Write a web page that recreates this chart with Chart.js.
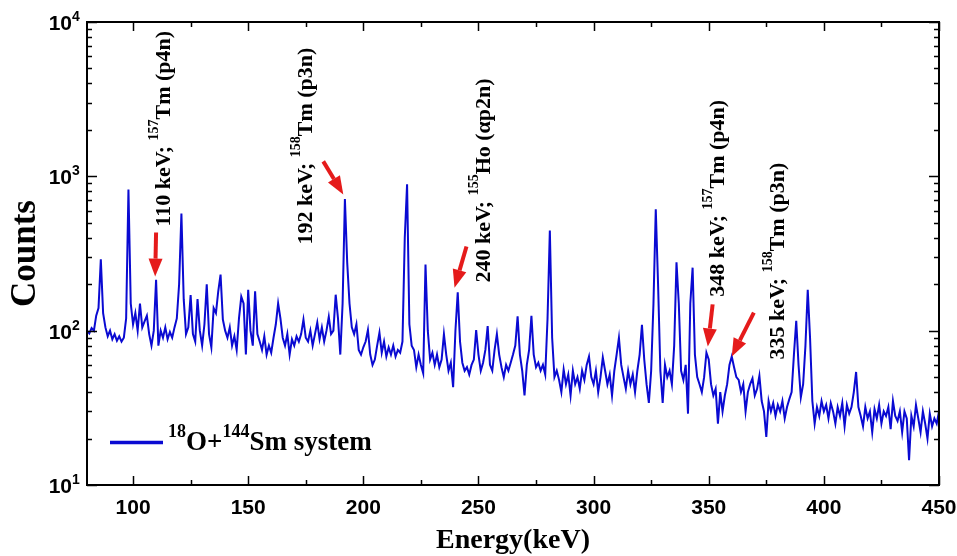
<!DOCTYPE html>
<html>
<head>
<meta charset="utf-8">
<script src="https://cdn.jsdelivr.net/npm/chart.js@4/dist/chart.umd.min.js"></script>
<style>
html,body{margin:0;padding:0;background:#fff;}
canvas{display:block;}
</style>
</head>
<body>
<canvas id="c" width="957" height="556"></canvas>
<script>
// ---- data ----
const energyKeV = [
80,81,82,83,84,85,86,87,88,89,
90,91,92,93,94,95,96,97,98,99,
100,101,102,103,104,105,106,107,108,109,
110,111,112,113,114,115,116,117,118,119,
120,121,122,123,124,125,126,127,128,129,
130,131,132,133,134,135,136,137,138,139,
140,141,142,143,144,145,146,147,148,149,
150,151,152,153,154,155,156,157,158,159,
160,161,162,163,164,165,166,167,168,169,
170,171,172,173,174,175,176,177,178,179,
180,181,182,183,184,185,186,187,188,189,
190,191,192,193,194,195,196,197,198,199,
200,201,202,203,204,205,206,207,208,209,
210,211,212,213,214,215,216,217,218,219,
220,221,222,223,224,225,226,227,228,229,
230,231,232,233,234,235,236,237,238,239,
240,241,242,243,244,245,246,247,248,249,
250,251,252,253,254,255,256,257,258,259,
260,261,262,263,264,265,266,267,268,269,
270,271,272,273,274,275,276,277,278,279,
280,281,282,283,284,285,286,287,288,289,
290,291,292,293,294,295,296,297,298,299,
300,301,302,303,304,305,306,307,308,309,
310,311,312,313,314,315,316,317,318,319,
320,321,322,323,324,325,326,327,328,329,
330,331,332,333,334,335,336,337,338,339,
340,341,342,343,344,345,346,347,348,349,
350,351,352,353,354,355,356,357,358,359,
360,361,362,363,364,365,366,367,368,369,
370,371,372,373,374,375,376,377,378,379,
380,381,382,383,384,385,386,387,388,389,
390,391,392,393,394,395,396,397,398,399,
400,401,402,403,404,405,406,407,408,409,
410,411,412,413,414,415,416,417,418,419,
420,421,422,423,424,425,426,427,428,429,
430,431,432,433,434,435,436,437,438,439,
440,441,442,443,444,445,446,447,448,449,
450];
const counts = [
100,96,104,100,125,140,290,130,105,92,
100,88,95,86,92,85,90,120,820,150,
110,130,100,150,105,115,125,95,80,100,
214,80,100,90,105,88,98,90,105,120,
200,575,160,95,105,170,95,85,160,100,
80,110,200,95,78,140,130,180,231,118,
100,90,105,80,92,75,120,166,150,70,
184,100,80,180,95,85,75,92,70,80,
72,90,110,150,120,90,80,95,70,88,
80,92,85,95,118,90,85,100,80,95,
113,88,105,85,100,123,95,100,171,120,
70,150,713,276,150,105,95,110,75,70,
78,85,101,70,60,65,80,97,72,85,
68,78,70,80,68,75,72,85,400,887,
110,80,75,58,70,60,53,268,100,65,
72,60,70,58,65,95,70,55,62,43,
100,177,85,62,55,58,52,60,65,101,
70,55,62,75,107,60,55,75,95,70,
58,50,60,55,62,70,80,124,70,55,
38,60,75,125,70,58,62,55,60,52,
120,445,90,50,55,48,40,56,45,52,
38,55,45,50,42,55,48,60,68,50,
45,55,40,50,67,55,45,52,38,55,
70,90,60,50,42,55,45,52,40,55,
70,109,65,45,34,55,150,611,200,55,
34,60,50,55,45,80,277,150,55,48,
60,29,150,256,70,50,45,40,50,72,
65,45,38,42,25,40,30,38,45,60,
68,58,50,48,40,45,30,40,45,49,
38,42,51,35,30,20.5,35,30,34,28,
33,30,35,27,32,36,40,70,116,60,
37,45,80,184,90,35,25,32,28,35,
30,33,27,34,30,25,32,28,34,24,
33,29,32,40,54,32,28,24,32,27,
30,22,31,27,33,25,30,28,32,23,
35,28,26,30,22,30,27,14.5,28,24,
33,27,22,30,25,20,29,24,27,25,
30];
const seriesName = ['18','O+','144','Sm system'];   // sup, text, sup, text
const xMajorTicks = [100,150,200,250,300,350,400,450];
const xMinorTicks = [125,175,225,275,325,375,425];
const yDecadeExponents = [1,2,3,4];
const xTitle = 'Energy(keV)';
const yTitle = 'Counts';

// peak annotations: label text parts, label anchor (energy, counts), arrow tail & tip (energy, counts)
const peakEnergy  = ['110 keV; ','192 keV; ','240 keV; ','348 keV; ','335 keV; '];
const peakIsotope = ['157','158','155','157','158'];
const peakNucleus = ['Tm (p4n)','Tm (p3n)','Ho (\u03b1p2n)','Tm (p4n)','Tm (p3n)'];
const labelAnchorE = [116.1,177.8,255.2,356.5,382.6];
const labelAnchorC = [473,362,205,166,65];
const arrowTailE = [110,182.6,244.8,351.7,369.6];
const arrowTailC = [433,1250,351,148,131];
const arrowTipE  = [109.6,191.3,239.6,349.6,360];
const arrowTipC  = [224,764,190,79,68];

const SERIF = '"Liberation Serif","Times New Roman",serif';
const SANS = '"Liberation Sans",Arial,sans-serif';
const LINE_BLUE = 'rgb(10,10,210)';

function drawRuns(ctx, runs){ // runs: [text, font, dy]
  let x = 0;
  for (const r of runs){
    ctx.font = r[1];
    ctx.fillText(r[0], x, r[2]);
    x += ctx.measureText(r[0]).width;
  }
}

const decorPlugin = {
  id:'decor',
  afterDraw(chart){
    const ctx = chart.ctx, xs = chart.scales.x, ys = chart.scales.y, a = chart.chartArea;
    ctx.save();
    ctx.strokeStyle = '#000';
    ctx.fillStyle = '#000';
    // ticks (inward, all four sides)
    ctx.lineWidth = 1.5;
    const tick = (x1,y1,x2,y2)=>{ctx.beginPath();ctx.moveTo(x1,y1);ctx.lineTo(x2,y2);ctx.stroke();};
    xMajorTicks.forEach(v=>{const p=Math.round(xs.getPixelForValue(v))+0.5; tick(p,a.bottom,p,a.bottom-9); tick(p,a.top,p,a.top+9);});
    xMinorTicks.forEach(v=>{const p=Math.round(xs.getPixelForValue(v))+0.5; tick(p,a.bottom,p,a.bottom-5); tick(p,a.top,p,a.top+5);});
    yDecadeExponents.forEach(e=>{
      const base = Math.pow(10,e);
      const p=Math.round(ys.getPixelForValue(base))+0.5;
      tick(a.left,p,a.left+10,p); tick(a.right,p,a.right-10,p);
      if (e<4){
        for(let m=2;m<=9;m++){
          const q=Math.round(ys.getPixelForValue(base*m))+0.5;
          tick(a.left,q,a.left+5,q); tick(a.right,q,a.right-5,q);
        }
      }
    });
    // frame
    ctx.lineWidth = 2;
    ctx.strokeRect(a.left, a.top, a.right-a.left, a.bottom-a.top);

    // x tick labels
    ctx.font = 'bold 21px '+SANS;
    ctx.textAlign = 'center';
    ctx.textBaseline = 'alphabetic';
    xMajorTicks.forEach(v=>{ ctx.fillText(String(v), xs.getPixelForValue(v), a.bottom+29); });
    // y tick labels 10^n
    yDecadeExponents.forEach(e=>{
      const p = ys.getPixelForValue(Math.pow(10,e));
      ctx.textAlign = 'right';
      ctx.font = 'bold 21px '+SANS;
      ctx.fillText('10', a.left-15, p+8);
      ctx.textAlign = 'left';
      ctx.font = 'bold 14px '+SANS;
      ctx.fillText(String(e), a.left-15, p-1);
    });
    // axis titles
    ctx.textAlign = 'center';
    ctx.font = 'bold 28px '+SERIF;
    ctx.fillText(xTitle, (a.left+a.right)/2, 548);
    ctx.save();
    ctx.translate(35, (a.top+a.bottom)/2);
    ctx.rotate(-Math.PI/2);
    ctx.font = 'bold 35px '+SERIF;
    ctx.fillText(yTitle, 0, 0);
    ctx.restore();

    // legend
    ctx.strokeStyle = LINE_BLUE;
    ctx.lineWidth = 3.5;
    const legY = a.top + (a.bottom-a.top)*0.908;
    ctx.beginPath(); ctx.moveTo(a.left+23, legY); ctx.lineTo(a.left+76, legY); ctx.stroke();
    ctx.save();
    ctx.translate(a.left+81, legY+8);
    ctx.textAlign='left';
    drawRuns(ctx, [
      [seriesName[0],'bold 18px '+SERIF,-13],
      [seriesName[1],'bold 27px '+SERIF,0],
      [seriesName[2],'bold 18px '+SERIF,-13],
      [seriesName[3],'bold 27px '+SERIF,0]
    ]);
    ctx.restore();

    // arrows
    ctx.strokeStyle = '#e51b1b';
    ctx.fillStyle = '#e51b1b';
    for (let i=0;i<arrowTipE.length;i++){
      const x1=xs.getPixelForValue(arrowTailE[i]), y1=ys.getPixelForValue(arrowTailC[i]);
      const x2=xs.getPixelForValue(arrowTipE[i]), y2=ys.getPixelForValue(arrowTipC[i]);
      const ang=Math.atan2(y2-y1,x2-x1), hl=18, hw=7;
      const bx=x2-hl*Math.cos(ang), by=y2-hl*Math.sin(ang);
      ctx.lineWidth=4;
      ctx.beginPath(); ctx.moveTo(x1,y1); ctx.lineTo(bx,by); ctx.stroke();
      ctx.beginPath();
      ctx.moveTo(x2,y2);
      ctx.lineTo(bx+hw*Math.sin(ang), by-hw*Math.cos(ang));
      ctx.lineTo(bx-hw*Math.sin(ang), by+hw*Math.cos(ang));
      ctx.closePath(); ctx.fill();
    }
    // rotated peak labels
    ctx.fillStyle = '#000';
    ctx.textAlign='left';
    ctx.textBaseline='alphabetic';
    for (let i=0;i<peakEnergy.length;i++){
      ctx.save();
      ctx.translate(xs.getPixelForValue(labelAnchorE[i]), ys.getPixelForValue(labelAnchorC[i]));
      ctx.rotate(-Math.PI/2);
      drawRuns(ctx, [
        [peakEnergy[i],'bold 22px '+SERIF,0],
        [peakIsotope[i],'bold 14px '+SERIF,-12],
        [peakNucleus[i],'bold 22px '+SERIF,0]
      ]);
      ctx.restore();
    }
    ctx.restore();
  }
};

new Chart(document.getElementById('c'), {
  type:'line',
  data:{
    datasets:[{
      label:'18O+144Sm system',
      data: energyKeV.map((e,i)=>({x:e,y:counts[i]})),
      borderColor:LINE_BLUE,
      borderWidth:2,
      pointRadius:0,
      tension:0,
      fill:false
    }]
  },
  options:{
    responsive:false,
    devicePixelRatio:1,
    animation:false,
    layout:{padding:{left:87,right:18,top:22,bottom:71}},
    plugins:{legend:{display:false},tooltip:{enabled:false}},
    scales:{
      x:{type:'linear',min:80,max:450,display:false},
      y:{type:'logarithmic',min:10,max:10000,display:false}
    }
  },
  plugins:[decorPlugin]
});
</script>
</body>
</html>
